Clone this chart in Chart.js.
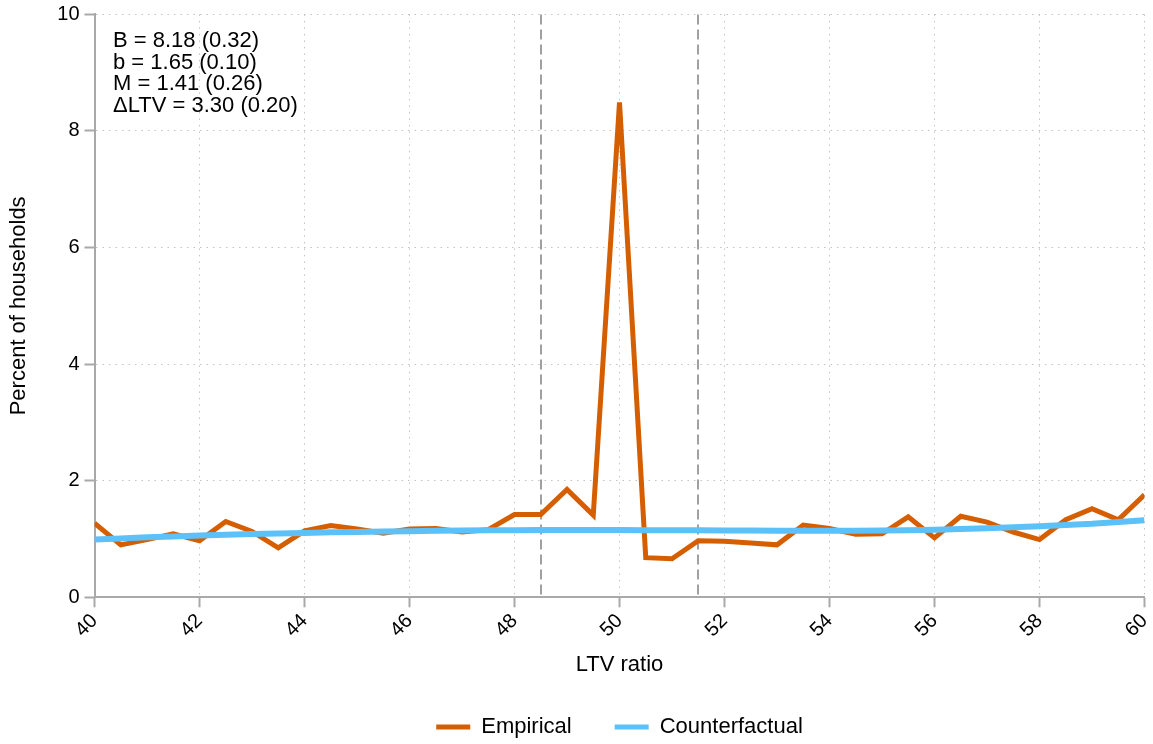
<!DOCTYPE html>
<html>
<head>
<meta charset="utf-8">
<script src="https://cdn.jsdelivr.net/npm/chart.js@4/dist/chart.umd.min.js"></script>
<style>
  html, body { margin: 0; padding: 0; background: #fff; }
  #wrap { width: 1153px; height: 744px; position: relative; }
</style>
</head>
<body>
<div id="wrap"><canvas id="c" width="1153" height="744"></canvas></div>
<script>
// LTV ratio bins (percent), half-point steps
const ltvBins = [40, 40.5, 41, 41.5, 42, 42.5, 43, 43.5, 44, 44.5, 45, 45.5, 46, 46.5, 47, 47.5,
  48, 48.5, 49, 49.5, 50, 50.5, 51, 51.5, 52, 52.5, 53, 53.5, 54, 54.5, 55, 55.5,
  56, 56.5, 57, 57.5, 58, 58.5, 59, 59.5, 60];

// Share of households in each bin
const empirical = [1.27, 0.90, 0.99, 1.09, 0.97, 1.30, 1.13, 0.85, 1.14, 1.23, 1.17, 1.10,
  1.17, 1.18, 1.12, 1.16, 1.42, 1.42, 1.85, 1.41, 8.49, 0.68, 0.66, 0.97, 0.96, 0.93,
  0.90, 1.24, 1.18, 1.08, 1.09, 1.38, 1.02, 1.39, 1.29, 1.12, 0.99, 1.33, 1.52, 1.33, 1.76];

const counterfactual = [0.99, 1.01, 1.03, 1.045, 1.06, 1.075, 1.085, 1.095, 1.105, 1.115, 1.12,
  1.13, 1.135, 1.14, 1.145, 1.15, 1.15, 1.155, 1.155, 1.155, 1.155, 1.15, 1.15, 1.15, 1.145,
  1.145, 1.14, 1.14, 1.14, 1.14, 1.145, 1.15, 1.16, 1.17, 1.185, 1.20, 1.22, 1.24, 1.26,
  1.29, 1.32];

// Bounds of the excluded window around the notch
const windowBounds = [48.5, 51.5];

// Bunching estimates shown in the corner
const statLines = ['B = 8.18 (0.32)', 'b = 1.65 (0.10)', 'M = 1.41 (0.26)', '\u0394LTV = 3.30 (0.20)'];

const FONT = '"Liberation Sans", Arial, Helvetica, sans-serif';
const AXIS_GRAY = '#a9a9a9';

const toPoints = ys => ltvBins.map((x, i) => ({ x, y: ys[i] }));

const windowLines = {
  id: 'windowLines',
  beforeDatasetsDraw(chart) {
    const { ctx, chartArea, scales } = chart;
    ctx.save();
    ctx.strokeStyle = '#a0a0a0';
    ctx.lineWidth = 2;
    ctx.setLineDash([10, 5]);
    windowBounds.forEach(v => {
      const px = Math.round(scales.x.getPixelForValue(v));
      ctx.beginPath();
      ctx.moveTo(px, chartArea.top);
      ctx.lineTo(px, chartArea.bottom);
      ctx.stroke();
    });
    ctx.restore();
  }
};

const statsText = {
  id: 'statsText',
  afterDraw(chart) {
    const { ctx, chartArea } = chart;
    ctx.save();
    ctx.fillStyle = '#000';
    ctx.font = '22px ' + FONT;
    ctx.textAlign = 'left';
    ctx.textBaseline = 'alphabetic';
    statLines.forEach((t, i) => {
      ctx.fillText(t, chartArea.left + 18.5, 47 + i * 21.7);
    });
    ctx.restore();
  }
};

new Chart(document.getElementById('c'), {
  type: 'line',
  data: {
    datasets: [
      {
        label: 'Empirical',
        data: toPoints(empirical),
        borderColor: '#D55E00',
        backgroundColor: '#D55E00',
        borderWidth: 5,
        pointRadius: 0,
        tension: 0,
        order: 2
      },
      {
        label: 'Counterfactual',
        data: toPoints(counterfactual),
        borderColor: '#5CC1F9',
        backgroundColor: '#5CC1F9',
        borderWidth: 6,
        pointRadius: 0,
        tension: 0,
        order: 1
      }
    ]
  },
  options: {
    responsive: false,
    animation: false,
    devicePixelRatio: 1,
    layout: { padding: { left: 0, right: 8.5, top: 14.4, bottom: -4 } },
    plugins: {
      tooltip: { enabled: false },
      legend: {
        position: 'bottom',
        fullSize: false,
        labels: {
          font: { family: FONT, size: 22 },
          color: '#000',
          boxWidth: 34,
          boxHeight: 5,
          padding: 43,
          sort: (a, b) => a.datasetIndex - b.datasetIndex,
          generateLabels(chart) {
            const items = Chart.defaults.plugins.legend.labels.generateLabels(chart);
            items.forEach(it => { it.lineWidth = 0; it.fillStyle = it.strokeStyle; });
            return items;
          }
        }
      }
    },
    scales: {
      x: {
        type: 'linear',
        min: 40,
        max: 60,
        afterFit(scale) {
          scale.height = 75.7;
          scale.paddingLeft = 0;
          scale.paddingRight = 0;
        },
        ticks: {
          stepSize: 2,
          minRotation: 45,
          maxRotation: 45,
          padding: 2,
          color: '#000',
          font: { family: FONT, size: 20 }
        },
        grid: {
          color: '#c2c2c2',
          lineWidth: 1,
          tickLength: 10,
          tickColor: AXIS_GRAY,
          tickWidth: 2,
          tickBorderDash: []
        },
        border: { display: true, color: AXIS_GRAY, width: 2, dash: [1.5, 5] },
        title: {
          display: true,
          text: 'LTV ratio',
          color: '#000',
          font: { family: FONT, size: 22 },
          padding: { top: 0, bottom: -5 }
        }
      },
      y: {
        min: 0,
        max: 10,
        afterFit(scale) {
          scale.width = 94.5;
          scale.paddingTop = 0;
          scale.paddingBottom = 0;
        },
        ticks: {
          stepSize: 2,
          padding: 5,
          color: '#000',
          font: { family: FONT, size: 20 }
        },
        grid: {
          color: '#c2c2c2',
          lineWidth: 1,
          tickLength: 10,
          tickColor: AXIS_GRAY,
          tickWidth: 2,
          tickBorderDash: []
        },
        border: { display: true, color: AXIS_GRAY, width: 2, dash: [1.5, 5] },
        title: {
          display: true,
          text: 'Percent of households',
          color: '#000',
          font: { family: FONT, size: 22 },
          padding: { top: 6, bottom: 0 }
        }
      }
    }
  },
  plugins: [windowLines, statsText]
});
</script>
</body>
</html>
